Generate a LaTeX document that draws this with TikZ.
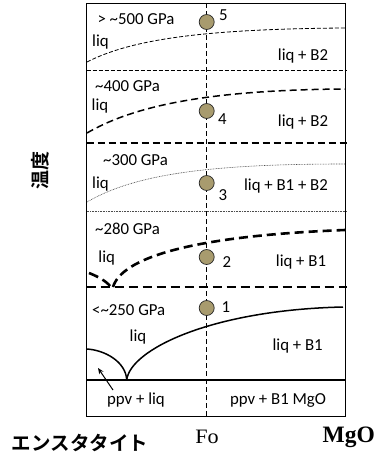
\documentclass[tikz,border=0pt]{standalone}
\usepackage{fontspec}
\setmainfont{Carlito}
\newfontfamily\serifo{Liberation Serif}[FakeStretch=1.08]
\newfontfamily\cjk{Noto Sans CJK JP Bold}
\usetikzlibrary{arrows.meta}
\definecolor{dotfill}{RGB}{168,155,110}
\begin{document}
\begin{tikzpicture}[x=1pt,y=-1pt,
  lbl/.style={inner sep=0pt,font=\fontsize{16.8}{17}\selectfont},
  num/.style={inner sep=0pt,font=\fontsize{16.8}{17}\selectfont},
  pt/.style={circle,draw=black!85,line width=0.7pt,fill=dotfill,minimum size=15pt,inner sep=0pt},
  thindash/.style={line width=0.8pt,dash pattern=on 4pt off 2pt},
  meddash/.style={line width=1.5pt,dash pattern=on 7pt off 4pt},
  thickdash/.style={line width=2.6pt,dash pattern=on 9pt off 5pt},
  thindot/.style={line width=0.6pt,dash pattern=on 0.8pt off 0.8pt,black!70},
  solidline/.style={line width=1.5pt}]
\useasboundingbox (0,0) rectangle (378,460);
% frame
\draw[line width=0.9pt] (86.7,3) rectangle (345,416);
% separators
\draw[thindash] (86.7,70) -- (346.5,70);
\draw[meddash] (86.7,143) -- (346.5,143);
\draw[thindot] (86.7,211) -- (346.5,211);
\draw[thickdash] (86.7,287) -- (346.5,287);
\draw[solidline] (86.7,380) -- (345,380);
% central composition line
\draw[line width=0.8pt,dash pattern=on 5pt off 3pt] (206.7,3) -- (206.7,416);
% panel 5 curve
\draw[thindash] (87,62) .. controls (130,40) and (200,29) .. (345,28);
% panel 4 curve
\draw[meddash] (87,133) .. controls (130,108) and (200,90) .. (345,89);
% panel 3 curve
\draw[thindot] (87,202) .. controls (135,174) and (210,164) .. (345,164);
% panel 2 curves
\draw[thickdash] (113,287) .. controls (122,258) and (190,236) .. (345,230);
\draw[thickdash,dash pattern=on 10pt off 5pt] (89,273) .. controls (99,277) and (106,281) .. (111,287);
% panel 1 curves
\draw[solidline] (86.7,349) .. controls (105,350) and (126,362) .. (126.7,380);
\draw[solidline] (126.7,380) .. controls (130,350) and (210,310) .. (343,307);
% points
\node[pt] (c5) at (206.7,22) {};
\node[pt] (c4) at (206.7,111) {};
\node[pt] (c3) at (206.7,183) {};
\node[pt] (c2) at (206.7,257) {};
\node[pt] (c1) at (206.7,308) {};
\node[num] (n5) at (223.5,15) {5};
\node[num] (n4) at (222.5,119) {4};
\node[num] (n3) at (223,195) {3};
\node[num] (n2) at (227,262) {2};
\node[num] (n1) at (226,307) {1};
% labels
\node[lbl] (p5) at (136,19) {> \textasciitilde500 GPa};
\node[lbl] (l5) at (100.5,42.5) {liq};
\node[lbl] (r5) at (303,56) {liq + B2};
\node[lbl] (p4) at (127.5,86) {\textasciitilde400 GPa};
\node[lbl] (l4) at (100,106) {liq};
\node[lbl] (r4) at (303,122) {liq + B2};
\node[lbl] (p3) at (135.5,160) {\textasciitilde300 GPa};
\node[lbl] (l3) at (100.5,184) {liq};
\node[lbl] (r3) at (286,186) {liq + B1 + B2};
\node[lbl] (p2) at (127.5,229) {\textasciitilde280 GPa};
\node[lbl] (l2) at (106.7,258) {liq};
\node[lbl] (r2) at (301,262) {liq + B1};
\node[lbl] (p1) at (128.7,310) {<\textasciitilde250 GPa};
\node[lbl] (l1) at (138,337) {liq};
\node[lbl] (r1) at (297.7,346) {liq + B1};
\node[lbl] (b1) at (136,400) {ppv + liq};
\node[lbl] (b2) at (278,400) {ppv + B1 MgO};
% arrow
\coordinate (atip) at (98,368);
\coordinate (atail) at (113,390);
\draw[line width=1pt,-{Stealth[length=6pt,width=5pt]}] (atail) -- (atip);
% axis labels
\node[inner sep=0pt,font=\serifo\fontsize{20.5}{21}\selectfont] (fo) at (207,436.7) {Fo};
\node[inner sep=0pt,font=\rmfamily\fontspec{Liberation Serif}\bfseries\fontsize{23.5}{24}\selectfont] (mgo) at (348.8,437.5) {MgO};
\node[inner sep=0pt,font=\cjk\fontsize{19.5}{20}\selectfont] (en) at (80,443) {エンスタタイト};
\node[inner sep=0pt,rotate=90,font=\cjk\fontsize{19}{20}\selectfont] (temp) at (40,170) {温度};
\end{tikzpicture}
\end{document}
